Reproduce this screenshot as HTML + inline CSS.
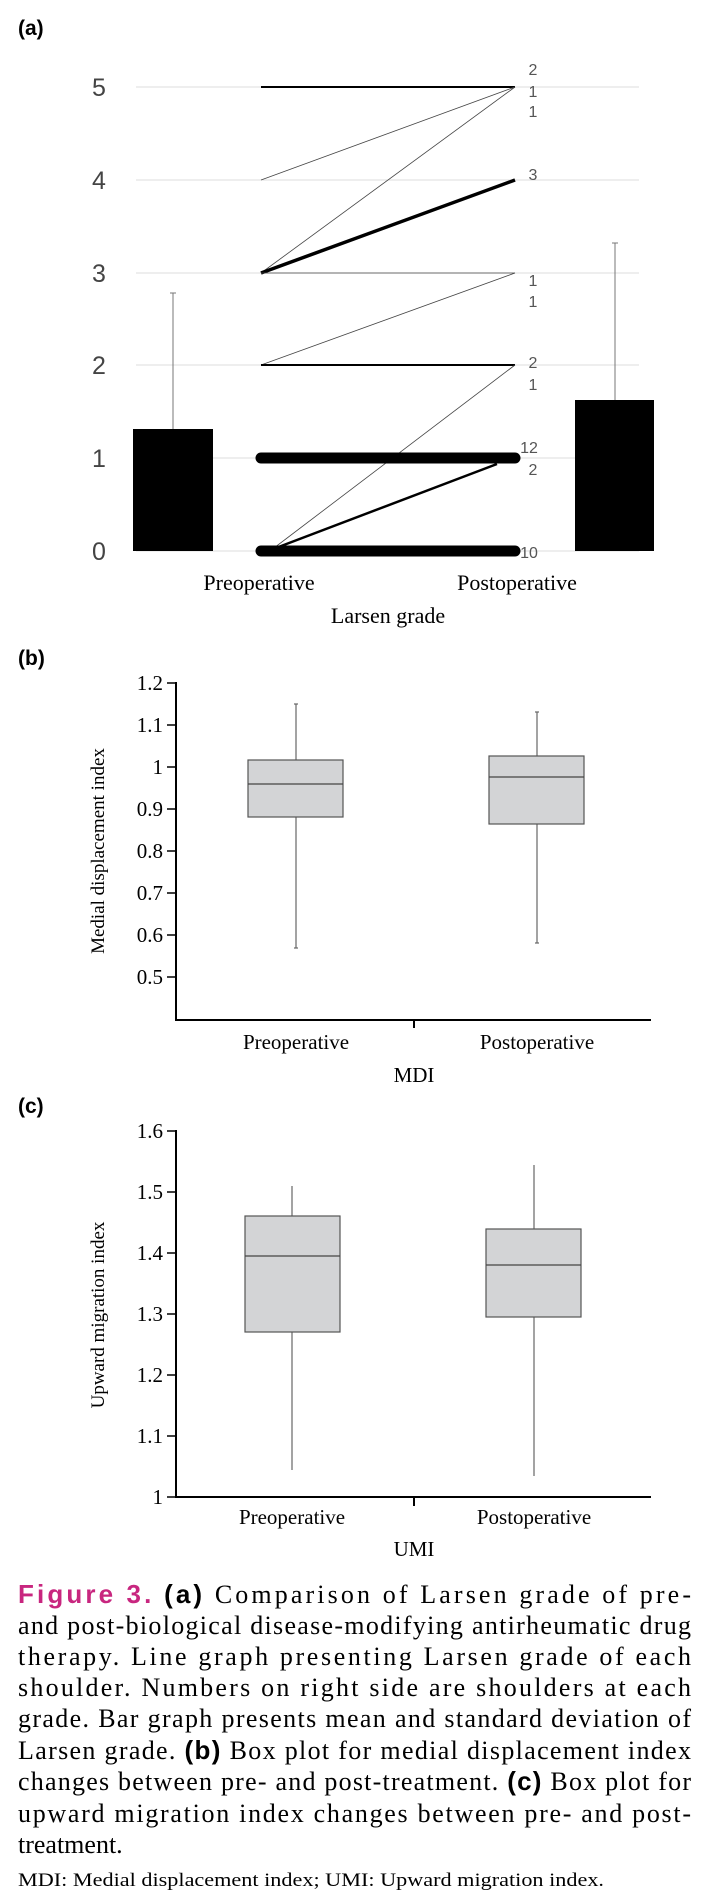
<!DOCTYPE html>
<html><head><meta charset="utf-8"><style>
html,body{margin:0;padding:0;background:#fff;}
svg{display:block;}
</style></head><body>
<svg width="707" height="1897" viewBox="0 0 707 1897" xmlns="http://www.w3.org/2000/svg">
<!-- Panel (a) -->
<text x="18" y="35" font-family="Liberation Sans, sans-serif" font-weight="bold" font-size="21" fill="#000">(a)</text>
<g stroke="#dcdcdc" stroke-width="1">
<line x1="136" y1="87" x2="639" y2="87"/><line x1="136" y1="180" x2="639" y2="180"/>
<line x1="136" y1="273" x2="639" y2="273"/><line x1="136" y1="365" x2="639" y2="365"/>
<line x1="136" y1="458" x2="639" y2="458"/><line x1="136" y1="551" x2="639" y2="551"/>
</g>
<g font-family="Liberation Sans, sans-serif" font-size="25" fill="#444" text-anchor="middle">
<text x="99" y="96">5</text><text x="99" y="189">4</text><text x="99" y="282">3</text>
<text x="99" y="374">2</text><text x="99" y="467">1</text><text x="99" y="560">0</text>
</g>
<rect x="133" y="429" width="80" height="122" fill="#000"/>
<line x1="173" y1="429" x2="173" y2="293" stroke="#777" stroke-width="1"/>
<line x1="170" y1="293" x2="176" y2="293" stroke="#777" stroke-width="1"/>
<rect x="575" y="400" width="79" height="151" fill="#000"/>
<line x1="615" y1="400" x2="615" y2="243" stroke="#777" stroke-width="1"/>
<line x1="612" y1="243" x2="618" y2="243" stroke="#777" stroke-width="1"/>
<g stroke="#000" fill="none">
<line x1="261" y1="87" x2="515" y2="87" stroke-width="2"/>
<line x1="261" y1="180" x2="515" y2="87" stroke-width="0.8" stroke="#444"/>
<line x1="261" y1="273" x2="515" y2="87" stroke-width="0.8" stroke="#444"/>
<line x1="261" y1="273" x2="515" y2="180" stroke-width="3.5"/>
<line x1="261" y1="273" x2="515" y2="273" stroke-width="0.8" stroke="#444"/>
<line x1="261" y1="365" x2="515" y2="273" stroke-width="0.8" stroke="#444"/>
<line x1="261" y1="365" x2="515" y2="365" stroke-width="2"/>
<line x1="270" y1="551" x2="515" y2="365" stroke-width="0.8" stroke="#444"/>
<line x1="261" y1="458" x2="515" y2="458" stroke-width="11" stroke-linecap="round"/>
<line x1="268" y1="551" x2="497" y2="464" stroke-width="2.5"/>
<line x1="261" y1="551" x2="515" y2="551" stroke-width="11" stroke-linecap="round"/>
</g>
<g font-family="Liberation Sans, sans-serif" font-size="16" fill="#555" text-anchor="middle">
<text x="533" y="75">2</text><text x="533" y="97">1</text><text x="533" y="117">1</text>
<text x="533" y="180">3</text>
<text x="533" y="286">1</text><text x="533" y="307">1</text>
<text x="533" y="368">2</text><text x="533" y="390">1</text>
<text x="529" y="453">12</text><text x="533" y="475">2</text>
<text x="529" y="558">10</text>
</g>
<g font-family="Liberation Serif, serif" font-size="22" fill="#000" text-anchor="middle">
<text x="259" y="590">Preoperative</text>
<text x="517" y="590">Postoperative</text>
<text x="388" y="623">Larsen grade</text>
</g>

<!-- Panel (b) -->
<text x="18" y="665" font-family="Liberation Sans, sans-serif" font-weight="bold" font-size="21" fill="#000">(b)</text>
<g stroke="#000" stroke-width="2" fill="none">
<line x1="176" y1="682" x2="176" y2="1021"/>
<line x1="175" y1="1020" x2="651" y2="1020"/>
<line x1="414" y1="1020" x2="414" y2="1028"/>
</g>
<g stroke="#000" stroke-width="1.5">
<line x1="167" y1="683" x2="176" y2="683"/><line x1="167" y1="725" x2="176" y2="725"/>
<line x1="167" y1="767" x2="176" y2="767"/><line x1="167" y1="809" x2="176" y2="809"/>
<line x1="167" y1="851" x2="176" y2="851"/><line x1="167" y1="893" x2="176" y2="893"/>
<line x1="167" y1="935" x2="176" y2="935"/><line x1="167" y1="977" x2="176" y2="977"/>
</g>
<g font-family="Liberation Serif, serif" font-size="21" fill="#000" text-anchor="end">
<text x="163" y="690">1.2</text><text x="163" y="732">1.1</text><text x="163" y="774">1</text>
<text x="163" y="816">0.9</text><text x="163" y="858">0.8</text><text x="163" y="900">0.7</text>
<text x="163" y="942">0.6</text><text x="163" y="984">0.5</text>
</g>
<text transform="translate(104,851) rotate(-90)" font-family="Liberation Serif, serif" font-size="19" text-anchor="middle">Medial displacement index</text>
<g stroke="#666" stroke-width="1.2">
<line x1="296" y1="704" x2="296" y2="948"/><line x1="294" y1="704" x2="298" y2="704"/><line x1="294" y1="948" x2="298" y2="948"/>
<line x1="537" y1="712" x2="537" y2="943"/><line x1="535" y1="712" x2="539" y2="712"/><line x1="535" y1="943" x2="539" y2="943"/>
</g>
<rect x="248" y="760" width="95" height="57" fill="#d3d4d6" stroke="#555" stroke-width="1.2"/>
<line x1="248" y1="784" x2="343" y2="784" stroke="#444" stroke-width="1.2"/>
<rect x="489" y="756" width="95" height="68" fill="#d3d4d6" stroke="#555" stroke-width="1.2"/>
<line x1="489" y1="777" x2="584" y2="777" stroke="#444" stroke-width="1.2"/>
<g font-family="Liberation Serif, serif" font-size="21" fill="#000" text-anchor="middle">
<text x="296" y="1049">Preoperative</text>
<text x="537" y="1049">Postoperative</text>
<text x="414" y="1082">MDI</text>
</g>

<!-- Panel (c) -->
<text x="18" y="1113" font-family="Liberation Sans, sans-serif" font-weight="bold" font-size="21" fill="#000">(c)</text>
<g stroke="#000" stroke-width="2" fill="none">
<line x1="176" y1="1130" x2="176" y2="1498"/>
<line x1="175" y1="1497" x2="651" y2="1497"/>
<line x1="414" y1="1497" x2="414" y2="1506"/>
</g>
<g stroke="#000" stroke-width="1.5">
<line x1="167" y1="1131" x2="176" y2="1131"/><line x1="167" y1="1192" x2="176" y2="1192"/>
<line x1="167" y1="1253" x2="176" y2="1253"/><line x1="167" y1="1314" x2="176" y2="1314"/>
<line x1="167" y1="1375" x2="176" y2="1375"/><line x1="167" y1="1436" x2="176" y2="1436"/>
<line x1="167" y1="1497" x2="176" y2="1497"/>
</g>
<g font-family="Liberation Serif, serif" font-size="21" fill="#000" text-anchor="end">
<text x="163" y="1138">1.6</text><text x="163" y="1199">1.5</text><text x="163" y="1260">1.4</text>
<text x="163" y="1321">1.3</text><text x="163" y="1382">1.2</text><text x="163" y="1443">1.1</text>
<text x="163" y="1504">1</text>
</g>
<text transform="translate(104,1315) rotate(-90)" font-family="Liberation Serif, serif" font-size="19" text-anchor="middle">Upward migration index</text>
<g stroke="#666" stroke-width="1.2">
<line x1="292" y1="1186" x2="292" y2="1470"/>
<line x1="534" y1="1165" x2="534" y2="1476"/>
</g>
<rect x="245" y="1216" width="95" height="116" fill="#d3d4d6" stroke="#555" stroke-width="1.2"/>
<line x1="245" y1="1256" x2="340" y2="1256" stroke="#444" stroke-width="1.2"/>
<rect x="486" y="1229" width="95" height="88" fill="#d3d4d6" stroke="#555" stroke-width="1.2"/>
<line x1="486" y1="1265" x2="581" y2="1265" stroke="#444" stroke-width="1.2"/>
<g font-family="Liberation Serif, serif" font-size="21" fill="#000" text-anchor="middle">
<text x="292" y="1524">Preoperative</text>
<text x="534" y="1524">Postoperative</text>
<text x="414" y="1556">UMI</text>
</g>

<!-- Caption -->
<g font-family="Liberation Serif, serif" font-size="26" fill="#000">
<text x="18" y="1603" textLength="673" lengthAdjust="spacing"><tspan font-family="Liberation Sans, sans-serif" font-weight="bold" fill="#c8267f">Figure 3.</tspan> <tspan font-family="Liberation Sans, sans-serif" font-weight="bold">(a)</tspan> Comparison of Larsen grade of pre-</text>
<text x="18" y="1634" textLength="673" lengthAdjust="spacing">and post-biological disease-modifying antirheumatic drug</text>
<text x="18" y="1665" textLength="673" lengthAdjust="spacing">therapy. Line graph presenting Larsen grade of each</text>
<text x="18" y="1696" textLength="673" lengthAdjust="spacing">shoulder. Numbers on right side are shoulders at each</text>
<text x="18" y="1727" textLength="673" lengthAdjust="spacing">grade. Bar graph presents mean and standard deviation of</text>
<text x="18" y="1759" textLength="673" lengthAdjust="spacing">Larsen grade. <tspan font-family="Liberation Sans, sans-serif" font-weight="bold">(b)</tspan> Box plot for medial displacement index</text>
<text x="18" y="1790" textLength="673" lengthAdjust="spacing">changes between pre- and post-treatment. <tspan font-family="Liberation Sans, sans-serif" font-weight="bold">(c)</tspan> Box plot for</text>
<text x="18" y="1822" textLength="673" lengthAdjust="spacing">upward migration index changes between pre- and post-</text>
<text x="18" y="1853">treatment.</text>
</g>
<text x="18" y="1886" font-family="Liberation Serif, serif" font-size="19" fill="#000" textLength="586" lengthAdjust="spacingAndGlyphs">MDI: Medial displacement index; UMI: Upward migration index.</text>
</svg>
</body></html>
